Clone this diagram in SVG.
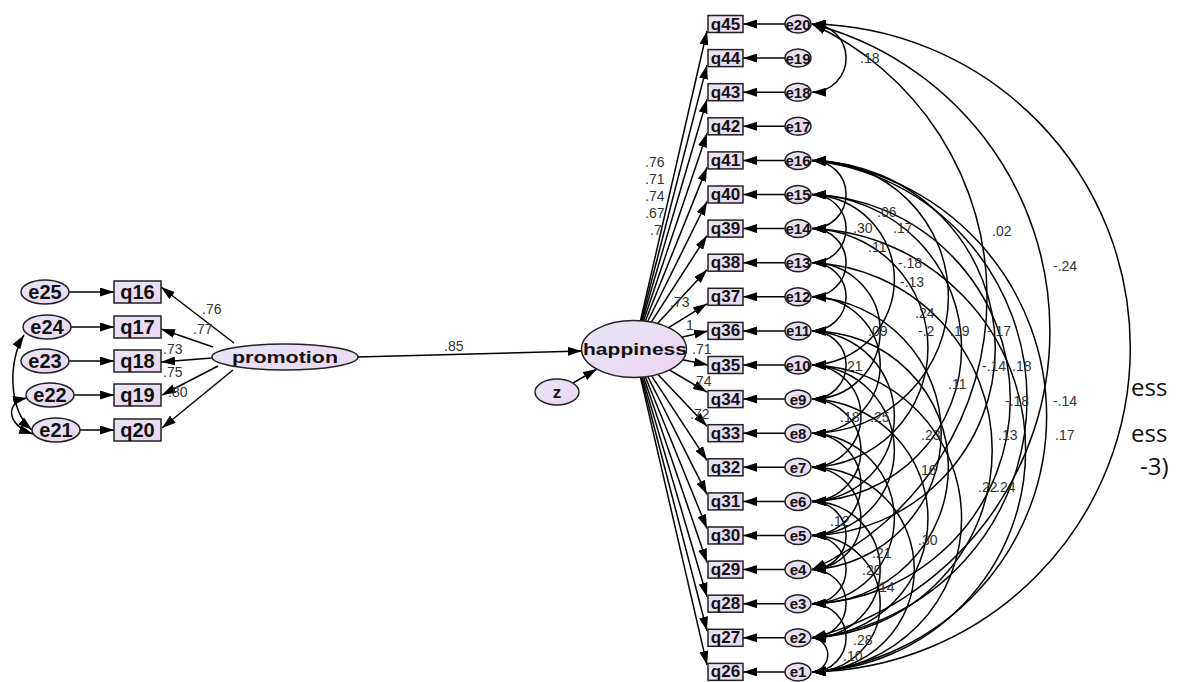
<svg xmlns="http://www.w3.org/2000/svg" width="1179" height="682" viewBox="0 0 1179 682">
<defs>
<linearGradient id="lav" x1="0" y1="0" x2="1" y2="1">
<stop offset="0" stop-color="#e8e6f5"/>
<stop offset="1" stop-color="#ead6ef"/>
</linearGradient>
<marker id="ah" viewBox="0 0 14 9" refX="14" refY="4.5" markerWidth="14" markerHeight="9" markerUnits="userSpaceOnUse" orient="auto"><path d="M0,0 L14,4.5 L0,9 z" fill="#000"/></marker>
<marker id="ah2" viewBox="0 0 14 9" refX="14" refY="4.5" markerWidth="14" markerHeight="9" markerUnits="userSpaceOnUse" orient="auto-start-reverse"><path d="M0,0 L14,4.5 L0,9 z" fill="#000"/></marker>
<style>
.ln{stroke:#000;stroke-width:1.5;fill:none;marker-end:url(#ah)}
.cv{stroke:#000;stroke-width:1.5;fill:none;marker-start:url(#ah2);marker-end:url(#ah2)}
.nd{fill:url(#lav);stroke:#222;stroke-width:1.5}
.t{font-family:"Liberation Sans",Arial,sans-serif;font-weight:bold;text-anchor:middle;dominant-baseline:central;fill:#111}
.tq{font-size:17px}
.te{font-size:15px}
.tl{font-size:20px}
.lb{font-family:"Liberation Sans",Arial,sans-serif;font-size:14px;fill:#333}
.big{font-family:"Open Sans","Noto Sans",sans-serif;font-size:24px;fill:#111}
</style>
</defs>
<rect width="1179" height="682" fill="#fff"/>

<g id="connectors">
<path class="ln" d="M69,292 L114,292"/>
<path class="ln" d="M71,327 L114,327"/>
<path class="ln" d="M69,361 L114,361"/>
<path class="ln" d="M74,395 L114,395"/>
<path class="ln" d="M80,430 L114,430"/>
<path class="ln" d="M234,343 L161,287"/>
<path class="ln" d="M213,347 L161,329"/>
<path class="ln" d="M212,358 L161,362"/>
<path class="ln" d="M218,366 L162,395"/>
<path class="ln" d="M233,370 L162,428"/>
<path class="cv" d="M24,335 C8,360 8,410 32,430"/>
<path class="cv" d="M27,398 C5,402 6,425 33,434"/>
<path class="ln" d="M357,357 L582,351"/>
<path class="ln" d="M573,383 L597,369"/>
<path class="ln" d="M640.5,320.7 L707,31"/>
<path class="ln" d="M641.3,320.8 L707,65.1"/>
<path class="ln" d="M642.2,320.9 L707,99.2"/>
<path class="ln" d="M643.5,321 L707,133.3"/>
<path class="ln" d="M645.2,321.2 L707,167.4"/>
<path class="ln" d="M647.6,321.5 L707,201.5"/>
<path class="ln" d="M651.3,322.1 L707,235.6"/>
<path class="ln" d="M657.5,323.5 L707,269.7"/>
<path class="ln" d="M668.6,327.6 L707,303.8"/>
<path class="ln" d="M681.7,337.2 L708,330.9"/>
<path class="ln" d="M682.7,359.7 L708,365"/>
<path class="ln" d="M669.5,370 L707,392.1"/>
<path class="ln" d="M658,374.4 L707,426.2"/>
<path class="ln" d="M651.6,375.9 L707,460.3"/>
<path class="ln" d="M647.8,376.5 L707,494.4"/>
<path class="ln" d="M645.3,376.8 L707,528.5"/>
<path class="ln" d="M643.6,377 L707,562.6"/>
<path class="ln" d="M642.3,377.1 L707,596.7"/>
<path class="ln" d="M641.3,377.2 L707,630.8"/>
<path class="ln" d="M640.5,377.3 L707,664.9"/>
<path class="ln" d="M785,24 L743,24"/>
<path class="ln" d="M785,58.1 L743,58.1"/>
<path class="ln" d="M785,92.2 L743,92.2"/>
<path class="ln" d="M785,126.3 L743,126.3"/>
<path class="ln" d="M785,160.4 L743,160.4"/>
<path class="ln" d="M785,194.5 L743,194.5"/>
<path class="ln" d="M785,228.6 L743,228.6"/>
<path class="ln" d="M785,262.7 L743,262.7"/>
<path class="ln" d="M785,296.8 L743,296.8"/>
<path class="ln" d="M785,330.9 L743,330.9"/>
<path class="ln" d="M785,365 L743,365"/>
<path class="ln" d="M785,399.1 L743,399.1"/>
<path class="ln" d="M785,433.2 L743,433.2"/>
<path class="ln" d="M785,467.3 L743,467.3"/>
<path class="ln" d="M785,501.4 L743,501.4"/>
<path class="ln" d="M785,535.5 L743,535.5"/>
<path class="ln" d="M785,569.6 L743,569.6"/>
<path class="ln" d="M785,603.7 L743,603.7"/>
<path class="ln" d="M785,637.8 L743,637.8"/>
<path class="ln" d="M785,671.9 L743,671.9"/>
<path class="cv" d="M812,24 A34.1,34.1 0 0 1 812,92.2"/>
<path class="cv" d="M812,24 A300.1,300.1 0 0 1 812,569.6"/>
<path class="cv" d="M812,24 A316.9,316.9 0 0 1 812,637.8"/>
<path class="cv" d="M812,24 A324,324 0 0 1 812,671.9"/>
<path class="cv" d="M812,160.4 A256.7,256.7 0 0 1 812,671.9"/>
<path class="cv" d="M812,160.4 A240,240 0 0 1 812,637.8"/>
<path class="cv" d="M812,160.4 A187.6,187.6 0 0 1 812,535.5"/>
<path class="cv" d="M812,160.4 A136.4,136.4 0 0 1 812,433.2"/>
<path class="cv" d="M812,160.4 A34.1,34.1 0 0 1 812,228.6"/>
<path class="cv" d="M812,194.5 A204.7,204.7 0 0 1 812,603.7"/>
<path class="cv" d="M812,194.5 A153.5,153.5 0 0 1 812,501.4"/>
<path class="cv" d="M812,194.5 A85.3,85.3 0 0 1 812,365"/>
<path class="cv" d="M812,194.5 A34.1,34.1 0 0 1 812,262.7"/>
<path class="cv" d="M812,228.6 A221.8,221.8 0 0 1 812,671.9"/>
<path class="cv" d="M812,228.6 A119.4,119.4 0 0 1 812,467.3"/>
<path class="cv" d="M812,228.6 A34.1,34.1 0 0 1 812,296.8"/>
<path class="cv" d="M812,262.7 A187.7,187.7 0 0 1 812,637.8"/>
<path class="cv" d="M812,262.7 A68.2,68.2 0 0 1 812,399.1"/>
<path class="cv" d="M812,262.7 A34.1,34.1 0 0 1 812,330.9"/>
<path class="cv" d="M812,296.8 A136.6,136.6 0 0 1 812,569.6"/>
<path class="cv" d="M812,296.8 A68.2,68.2 0 0 1 812,433.2"/>
<path class="cv" d="M812,330.9 A136.4,136.4 0 0 1 812,603.7"/>
<path class="cv" d="M812,330.9 A85.3,85.3 0 0 1 812,501.4"/>
<path class="cv" d="M812,330.9 A34.1,34.1 0 0 1 812,399.1"/>
<path class="cv" d="M812,365 A153.5,153.5 0 0 1 812,671.9"/>
<path class="cv" d="M812,365 A85.3,85.3 0 0 1 812,535.5"/>
<path class="cv" d="M812,365 A51.2,51.2 0 0 1 812,467.3"/>
<path class="cv" d="M812,399.1 A119.4,119.4 0 0 1 812,637.8"/>
<path class="cv" d="M812,399.1 A51.2,51.2 0 0 1 812,501.4"/>
<path class="cv" d="M812,433.2 A85.3,85.3 0 0 1 812,603.7"/>
<path class="cv" d="M812,433.2 A51.2,51.2 0 0 1 812,535.5"/>
<path class="cv" d="M812,467.3 A102.3,102.3 0 0 1 812,671.9"/>
<path class="cv" d="M812,467.3 A51.2,51.2 0 0 1 812,569.6"/>
<path class="cv" d="M812,501.4 A34.1,34.1 0 0 1 812,569.6"/>
<path class="cv" d="M812,501.4 A68.2,68.2 0 0 1 812,637.8"/>
<path class="cv" d="M812,535.5 A34.1,34.1 0 0 1 812,603.7"/>
<path class="cv" d="M812,535.5 A68.2,68.2 0 0 1 812,671.9"/>
<path class="cv" d="M812,569.6 A34.1,34.1 0 0 1 812,637.8"/>
<path class="cv" d="M812,603.7 A34.1,34.1 0 0 1 812,671.9"/>
<path class="cv" d="M812,637.8 A17.1,17.1 0 0 1 812,671.9"/>
</g>

<g id="labels">
<text class="lb" x="202" y="314" font-size="13">.76</text>
<text class="lb" x="193" y="334" font-size="13">.77</text>
<text class="lb" x="163" y="354" font-size="13">.73</text>
<text class="lb" x="163" y="377" font-size="13">.75</text>
<text class="lb" x="168" y="397" font-size="13">.80</text>
<text class="lb" x="444" y="351">.85</text>
<text class="lb" x="645" y="167">.76</text>
<text class="lb" x="645" y="184">.71</text>
<text class="lb" x="645" y="201">.74</text>
<text class="lb" x="645" y="218">.67</text>
<text class="lb" x="650" y="235">.7</text>
<text class="lb" x="670" y="307">.73</text>
<text class="lb" x="686" y="330">1</text>
<text class="lb" x="692" y="354" font-size="13">.71</text>
<text class="lb" x="692" y="386" font-size="13">.74</text>
<text class="lb" x="690" y="419" font-size="13">.72</text>
<text class="lb" x="860" y="63">.18</text>
<text class="lb" x="992" y="236">.02</text>
<text class="lb" x="1053" y="271">-.24</text>
<text class="lb" x="877" y="217">.06</text>
<text class="lb" x="853" y="233">.30</text>
<text class="lb" x="893" y="233">.17</text>
<text class="lb" x="868" y="252">.11</text>
<text class="lb" x="898" y="268">-.18</text>
<text class="lb" x="900" y="287">-.13</text>
<text class="lb" x="915" y="318">.24</text>
<text class="lb" x="868" y="336">.09</text>
<text class="lb" x="918" y="336">-.2</text>
<text class="lb" x="950" y="336">.19</text>
<text class="lb" x="987" y="336">-.17</text>
<text class="lb" x="843" y="371">.21</text>
<text class="lb" x="982" y="371">-.14</text>
<text class="lb" x="1012" y="371">.18</text>
<text class="lb" x="948" y="389">.11</text>
<text class="lb" x="1005" y="406">-.18</text>
<text class="lb" x="1053" y="406">-.14</text>
<text class="lb" x="840" y="422">.18</text>
<text class="lb" x="870" y="422">.25</text>
<text class="lb" x="921" y="440">.23</text>
<text class="lb" x="998" y="440">.13</text>
<text class="lb" x="1055" y="440">.17</text>
<text class="lb" x="917" y="475">.16</text>
<text class="lb" x="978" y="492">.22</text>
<text class="lb" x="996" y="492">.24</text>
<text class="lb" x="830" y="526">.12</text>
<text class="lb" x="918" y="545">.30</text>
<text class="lb" x="872" y="558">.21</text>
<text class="lb" x="862" y="575">.20</text>
<text class="lb" x="875" y="592">.14</text>
<text class="lb" x="853" y="645">.28</text>
<text class="lb" x="843" y="661">.10</text>
<text class="big" x="1131" y="396">ess</text>
<text class="big" x="1131" y="442">ess</text>
<text class="big" x="1140" y="475">-3)</text>
</g>

<g id="promotion"><ellipse class="nd" cx="285" cy="357" rx="73" ry="13"/><text class="t" x="285" y="357" font-size="17" textLength="106" lengthAdjust="spacingAndGlyphs">promotion</text></g>
<g id="happiness"><ellipse class="nd" cx="634" cy="349" rx="52.5" ry="28.5"/><text class="t" x="635" y="349" font-size="17" textLength="104" lengthAdjust="spacingAndGlyphs">happiness</text></g>
<g id="z"><ellipse class="nd" cx="557" cy="392" rx="22" ry="13"/><text class="t tq" x="557" y="392">z</text></g>

<g id="e25"><ellipse class="nd" cx="45" cy="292" rx="24" ry="12"/><text class="t tl" x="45" y="292">e25</text></g>
<g id="e24"><ellipse class="nd" cx="47" cy="327" rx="24" ry="12"/><text class="t tl" x="47" y="327">e24</text></g>
<g id="e23"><ellipse class="nd" cx="45" cy="361" rx="24" ry="12"/><text class="t tl" x="45" y="361">e23</text></g>
<g id="e22"><ellipse class="nd" cx="50" cy="395" rx="24" ry="12"/><text class="t tl" x="50" y="395">e22</text></g>
<g id="e21"><ellipse class="nd" cx="56" cy="430" rx="24" ry="12"/><text class="t tl" x="56" y="430">e21</text></g>
<g id="q16"><rect class="nd" x="114" y="281" width="47" height="22"/><text class="t tl" x="137.5" y="292">q16</text></g>
<g id="q17"><rect class="nd" x="114" y="316" width="47" height="22"/><text class="t tl" x="137.5" y="327">q17</text></g>
<g id="q18"><rect class="nd" x="114" y="350" width="47" height="22"/><text class="t tl" x="137.5" y="361">q18</text></g>
<g id="q19"><rect class="nd" x="114" y="384" width="47" height="22"/><text class="t tl" x="137.5" y="395">q19</text></g>
<g id="q20"><rect class="nd" x="114" y="419" width="47" height="22"/><text class="t tl" x="137.5" y="430">q20</text></g>

<g id="q45"><rect class="nd" x="708" y="15.5" width="35" height="17"/><text class="t tq" x="725.5" y="24">q45</text></g>
<g id="q44"><rect class="nd" x="708" y="49.6" width="35" height="17"/><text class="t tq" x="725.5" y="58.1">q44</text></g>
<g id="q43"><rect class="nd" x="708" y="83.7" width="35" height="17"/><text class="t tq" x="725.5" y="92.2">q43</text></g>
<g id="q42"><rect class="nd" x="708" y="117.8" width="35" height="17"/><text class="t tq" x="725.5" y="126.3">q42</text></g>
<g id="q41"><rect class="nd" x="708" y="151.9" width="35" height="17"/><text class="t tq" x="725.5" y="160.4">q41</text></g>
<g id="q40"><rect class="nd" x="708" y="186" width="35" height="17"/><text class="t tq" x="725.5" y="194.5">q40</text></g>
<g id="q39"><rect class="nd" x="708" y="220.1" width="35" height="17"/><text class="t tq" x="725.5" y="228.6">q39</text></g>
<g id="q38"><rect class="nd" x="708" y="254.2" width="35" height="17"/><text class="t tq" x="725.5" y="262.7">q38</text></g>
<g id="q37"><rect class="nd" x="708" y="288.3" width="35" height="17"/><text class="t tq" x="725.5" y="296.8">q37</text></g>
<g id="q36"><rect class="nd" x="708" y="322.4" width="35" height="17"/><text class="t tq" x="725.5" y="330.9">q36</text></g>
<g id="q35"><rect class="nd" x="708" y="356.5" width="35" height="17"/><text class="t tq" x="725.5" y="365">q35</text></g>
<g id="q34"><rect class="nd" x="708" y="390.6" width="35" height="17"/><text class="t tq" x="725.5" y="399.1">q34</text></g>
<g id="q33"><rect class="nd" x="708" y="424.7" width="35" height="17"/><text class="t tq" x="725.5" y="433.2">q33</text></g>
<g id="q32"><rect class="nd" x="708" y="458.8" width="35" height="17"/><text class="t tq" x="725.5" y="467.3">q32</text></g>
<g id="q31"><rect class="nd" x="708" y="492.9" width="35" height="17"/><text class="t tq" x="725.5" y="501.4">q31</text></g>
<g id="q30"><rect class="nd" x="708" y="527" width="35" height="17"/><text class="t tq" x="725.5" y="535.5">q30</text></g>
<g id="q29"><rect class="nd" x="708" y="561.1" width="35" height="17"/><text class="t tq" x="725.5" y="569.6">q29</text></g>
<g id="q28"><rect class="nd" x="708" y="595.2" width="35" height="17"/><text class="t tq" x="725.5" y="603.7">q28</text></g>
<g id="q27"><rect class="nd" x="708" y="629.3" width="35" height="17"/><text class="t tq" x="725.5" y="637.8">q27</text></g>
<g id="q26"><rect class="nd" x="708" y="663.4" width="35" height="17"/><text class="t tq" x="725.5" y="671.9">q26</text></g>

<g id="e20"><ellipse class="nd" cx="798" cy="24" rx="13" ry="9"/><text class="t te" x="798" y="24">e20</text></g>
<g id="e19"><ellipse class="nd" cx="798" cy="58.1" rx="13" ry="9"/><text class="t te" x="798" y="58.1">e19</text></g>
<g id="e18"><ellipse class="nd" cx="798" cy="92.2" rx="13" ry="9"/><text class="t te" x="798" y="92.2">e18</text></g>
<g id="e17"><ellipse class="nd" cx="798" cy="126.3" rx="13" ry="9"/><text class="t te" x="798" y="126.3">e17</text></g>
<g id="e16"><ellipse class="nd" cx="798" cy="160.4" rx="13" ry="9"/><text class="t te" x="798" y="160.4">e16</text></g>
<g id="e15"><ellipse class="nd" cx="798" cy="194.5" rx="13" ry="9"/><text class="t te" x="798" y="194.5">e15</text></g>
<g id="e14"><ellipse class="nd" cx="798" cy="228.6" rx="13" ry="9"/><text class="t te" x="798" y="228.6">e14</text></g>
<g id="e13"><ellipse class="nd" cx="798" cy="262.7" rx="13" ry="9"/><text class="t te" x="798" y="262.7">e13</text></g>
<g id="e12"><ellipse class="nd" cx="798" cy="296.8" rx="13" ry="9"/><text class="t te" x="798" y="296.8">e12</text></g>
<g id="e11"><ellipse class="nd" cx="798" cy="330.9" rx="13" ry="9"/><text class="t te" x="798" y="330.9">e11</text></g>
<g id="e10"><ellipse class="nd" cx="798" cy="365" rx="13" ry="9"/><text class="t te" x="798" y="365">e10</text></g>
<g id="e9"><ellipse class="nd" cx="798" cy="399.1" rx="13" ry="9"/><text class="t te" x="798" y="399.1">e9</text></g>
<g id="e8"><ellipse class="nd" cx="798" cy="433.2" rx="13" ry="9"/><text class="t te" x="798" y="433.2">e8</text></g>
<g id="e7"><ellipse class="nd" cx="798" cy="467.3" rx="13" ry="9"/><text class="t te" x="798" y="467.3">e7</text></g>
<g id="e6"><ellipse class="nd" cx="798" cy="501.4" rx="13" ry="9"/><text class="t te" x="798" y="501.4">e6</text></g>
<g id="e5"><ellipse class="nd" cx="798" cy="535.5" rx="13" ry="9"/><text class="t te" x="798" y="535.5">e5</text></g>
<g id="e4"><ellipse class="nd" cx="798" cy="569.6" rx="13" ry="9"/><text class="t te" x="798" y="569.6">e4</text></g>
<g id="e3"><ellipse class="nd" cx="798" cy="603.7" rx="13" ry="9"/><text class="t te" x="798" y="603.7">e3</text></g>
<g id="e2"><ellipse class="nd" cx="798" cy="637.8" rx="13" ry="9"/><text class="t te" x="798" y="637.8">e2</text></g>
<g id="e1"><ellipse class="nd" cx="798" cy="671.9" rx="13" ry="9"/><text class="t te" x="798" y="671.9">e1</text></g>
</svg>
